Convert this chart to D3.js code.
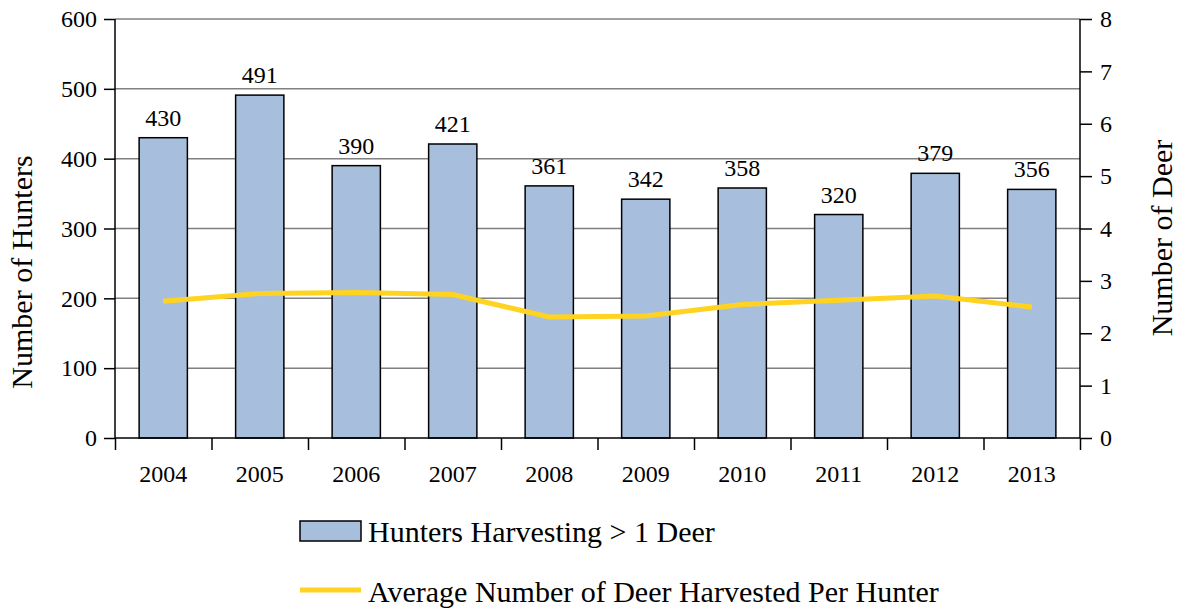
<!DOCTYPE html>
<html><head><meta charset="utf-8">
<script src="https://cdn.jsdelivr.net/npm/d3@7"></script>
<style>
body{margin:0;background:#fff;}
</style></head>
<body><svg id="c" width="1186" height="608"></svg>
<script>
const years = ["2004","2005","2006","2007","2008","2009","2010","2011","2012","2013"];
const hunters = [430,491,390,421,361,342,358,320,379,356];
const avgDeer = [2.61,2.76,2.78,2.74,2.31,2.33,2.55,2.63,2.71,2.50];
const leftTicks = [0,100,200,300,400,500,600];
const rightTicks = [0,1,2,3,4,5,6,7,8];
const barLabel = "Hunters Harvesting > 1 Deer";
const lineLabel = "Average Number of Deer Harvested Per Hunter";

const FONT = "'Liberation Serif','Times New Roman',serif";
const svg = d3.select("#c");
const L=115, R=1080, T=19, B=438;
const x = d3.scaleBand().domain(years).range([L,R]).paddingInner(0.5).paddingOuter(0.25);
const xb = d3.scaleLinear().domain([0,years.length]).range([L,R]);
const y = d3.scaleLinear().domain([0,600]).range([B,T]);
const y2 = d3.scaleLinear().domain([0,8]).range([B,T]);

// gridlines
svg.append("g").selectAll("line").data(leftTicks.filter(d=>d>0)).join("line")
  .attr("x1",L).attr("x2",R).attr("y1",d=>y(d)).attr("y2",d=>y(d))
  .attr("stroke","#808080").attr("stroke-width",1.5);

// bars
svg.append("g").selectAll("rect").data(years).join("rect")
  .attr("x",d=>x(d)).attr("width",x.bandwidth())
  .attr("y",(d,i)=>y(hunters[i])).attr("height",(d,i)=>B-y(hunters[i]))
  .attr("fill","#A7BFDD").attr("stroke","#000").attr("stroke-width",1.5);

// bar labels
svg.append("g").selectAll("text").data(years).join("text")
  .attr("x",d=>x(d)+x.bandwidth()/2).attr("y",(d,i)=>y(hunters[i])-12)
  .attr("text-anchor","middle").style("font-family",FONT).style("font-size","24px")
  .text((d,i)=>hunters[i]);

// line
const line = d3.line().x((d,i)=>x(years[i])+x.bandwidth()/2).y(d=>y2(d));
svg.append("path").datum(avgDeer).attr("d",line)
  .attr("fill","none").attr("stroke","#FFD320").attr("stroke-width",5);

// axes
const ga = svg.append("g").attr("transform",`translate(${L},0)`)
  .call(d3.axisLeft(y).tickValues(leftTicks).tickSize(11).tickPadding(7));
const gr = svg.append("g").attr("transform",`translate(${R},0)`)
  .call(d3.axisRight(y2).tickValues(rightTicks).tickSize(12).tickPadding(8));
const gb = svg.append("g").attr("transform",`translate(0,${B})`)
  .call(d3.axisBottom(xb).tickValues(d3.range(years.length+1)).tickSize(12).tickFormat(""));
const gl = svg.append("g").attr("transform",`translate(0,${B})`)
  .call(d3.axisBottom(x).tickSize(0));
gl.select(".domain").remove();
gl.selectAll(".tick text").attr("dy",null).attr("y",44);
[ga,gr,gb].forEach(g=>{
  g.selectAll(".domain").attr("stroke","#000").attr("stroke-width",1.5);
  g.selectAll(".tick line").attr("stroke","#000").attr("stroke-width",1.5);
});
svg.selectAll(".tick text").style("font-family",FONT).style("font-size","24px").attr("fill","#000");
gb.select(".domain").attr("d",`M${L},0H${R}`);
ga.select(".domain").attr("d",`M0,${B}V${T}`);
gr.select(".domain").attr("d",`M0,${B}V${T}`);

// axis titles
svg.append("text").attr("transform","translate(32,272) rotate(-90)")
  .attr("text-anchor","middle").style("font-family",FONT).style("font-size","30px").text("Number of Hunters");
svg.append("text").attr("transform","translate(1172,238) rotate(-90)")
  .attr("text-anchor","middle").style("font-family",FONT).style("font-size","30px").text("Number of Deer");

// legend
svg.append("rect").attr("x",300).attr("y",521).attr("width",61).attr("height",20)
  .attr("fill","#A7BFDD").attr("stroke","#000").attr("stroke-width",1.5);
svg.append("text").attr("x",368).attr("y",542).style("font-family",FONT).style("font-size","30px").text(barLabel);
svg.append("line").attr("x1",300).attr("x2",361).attr("y1",590).attr("y2",590)
  .attr("stroke","#FFD320").attr("stroke-width",5);
svg.append("text").attr("x",368).attr("y",602).style("font-family",FONT).style("font-size","30px").text(lineLabel);
</script></body></html>
